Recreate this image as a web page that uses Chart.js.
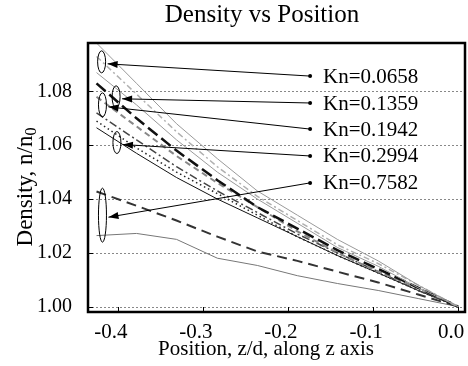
<!DOCTYPE html>
<html>
<head>
<meta charset="utf-8">
<script src="https://cdn.jsdelivr.net/npm/chart.js@4/dist/chart.umd.min.js"></script>
<style>
  body { margin: 0; background: #fff; }
</style>
</head>
<body>
<canvas id="myChart" width="468" height="366"></canvas>
<script>
'use strict';

// positions along z axis (z/d)
const positions = [-0.425, -0.378, -0.331, -0.283, -0.236, -0.189, -0.142, -0.094, -0.047, 0.0];

// density n/n0 for each curve, top to bottom at the left edge
const grayTop = [1.098, 1.083, 1.068, 1.055, 1.043, 1.034, 1.025, 1.017, 1.008, 1.000];
const grayDashDot = [1.093, 1.079, 1.065, 1.052, 1.041, 1.032, 1.023, 1.016, 1.008, 1.000];
const graySecond = [1.087, 1.075, 1.062, 1.050, 1.040, 1.031, 1.022, 1.015, 1.007, 1.000];
const blackLongDash = [1.083, 1.070, 1.058, 1.047, 1.037, 1.029, 1.021, 1.014, 1.007, 1.000];
const grayDashed = [1.078, 1.067, 1.056, 1.046, 1.037, 1.028, 1.020, 1.013, 1.007, 1.000];
const darkDashDot = [1.072, 1.062, 1.052, 1.043, 1.035, 1.027, 1.020, 1.013, 1.006, 1.000];
const blackDotted = [1.069, 1.059, 1.050, 1.042, 1.034, 1.026, 1.019, 1.0125, 1.006, 1.000];
const blackSolid = [1.0665, 1.057, 1.048, 1.040, 1.033, 1.026, 1.019, 1.0125, 1.006, 1.000];
const blackDashed = [1.0428, 1.0375, 1.032, 1.026, 1.0205, 1.017, 1.013, 1.009, 1.0045, 1.000];
const grayBottom = [1.0264, 1.0272, 1.025, 1.018, 1.0153, 1.0115, 1.0086, 1.006, 1.003, 1.000];

const xTicks = [-0.4, -0.3, -0.2, -0.1, 0.0];
const yTicks = [1.00, 1.02, 1.04, 1.06, 1.08];

// Kn callouts (label, label y, ellipse centre x/y, ellipse half height in px)
const knLabels = ['Kn=0.0658', 'Kn=0.1359', 'Kn=0.1942', 'Kn=0.2994', 'Kn=0.7582'];
const knLabelY = [1.0857, 1.0757, 1.0660, 1.0560, 1.0460];
const knLabelX = -0.174;
const knEllipseX = [-0.419, -0.402, -0.418, -0.401, -0.418];
const knEllipseY = [1.091, 1.078, 1.075, 1.061, 1.034];
const knEllipseRy = [11, 11, 12, 11, 27];

const serif = '"Liberation Serif", "DejaVu Serif", serif';

function series(values, color, width, dash) {
    return {
        data: positions.map((x, i) => ({ x: x, y: values[i] })),
        borderColor: color,
        borderWidth: width,
        borderDash: dash,
        showLine: true,
        pointRadius: 0,
        fill: false
    };
}

const decorations = {
    id: 'decorations',
    beforeDatasetsDraw(chart) {
        const ctx = chart.ctx;
        const area = chart.chartArea;
        const ys = chart.scales.y;
        ctx.save();
        // dotted grid lines
        ctx.strokeStyle = '#888';
        ctx.lineWidth = 1;
        ctx.setLineDash([2, 2]);
        yTicks.forEach(v => {
            const y = Math.round(ys.getPixelForValue(v)) + 0.5;
            ctx.beginPath();
            ctx.moveTo(area.left, y);
            ctx.lineTo(area.right, y);
            ctx.stroke();
        });
        ctx.restore();
    },
    afterDatasetsDraw(chart) {
        const ctx = chart.ctx;
        const area = chart.chartArea;
        const xs = chart.scales.x;
        const ys = chart.scales.y;
        ctx.save();
        ctx.setLineDash([]);
        ctx.strokeStyle = '#000';
        ctx.fillStyle = '#000';

        // inner tick marks
        ctx.lineWidth = 1;
        xTicks.forEach(v => {
            const x = Math.round(xs.getPixelForValue(v)) + 0.5;
            ctx.beginPath();
            ctx.moveTo(x, area.bottom);
            ctx.lineTo(x, area.bottom - 5);
            ctx.stroke();
        });
        yTicks.forEach(v => {
            const y = Math.round(ys.getPixelForValue(v)) + 0.5;
            ctx.beginPath();
            ctx.moveTo(area.left, y);
            ctx.lineTo(area.left + 5, y);
            ctx.stroke();
        });

        // frame
        ctx.lineWidth = 2.5;
        ctx.strokeRect(area.left, area.top, area.right - area.left, area.bottom - area.top);

        // Kn callouts
        knLabels.forEach((label, i) => {
            const ex = xs.getPixelForValue(knEllipseX[i]);
            const ey = ys.getPixelForValue(knEllipseY[i]);
            const dx = xs.getPixelForValue(knLabelX);
            const dy = ys.getPixelForValue(knLabelY[i]);

            ctx.lineWidth = 1;
            ctx.beginPath();
            ctx.ellipse(ex, ey, 4, knEllipseRy[i], 0, 0, Math.PI * 2);
            ctx.stroke();

            const tx = ex + 6;
            const ty = ey + 2;
            const ang = Math.atan2(ty - dy, tx - dx);
            ctx.beginPath();
            ctx.moveTo(dx, dy);
            ctx.lineTo(tx, ty);
            ctx.stroke();
            ctx.beginPath();
            ctx.moveTo(tx, ty);
            ctx.lineTo(tx - 10 * Math.cos(ang) + 3.5 * Math.sin(ang), ty - 10 * Math.sin(ang) - 3.5 * Math.cos(ang));
            ctx.lineTo(tx - 10 * Math.cos(ang) - 3.5 * Math.sin(ang), ty - 10 * Math.sin(ang) + 3.5 * Math.cos(ang));
            ctx.closePath();
            ctx.fill();

            ctx.beginPath();
            ctx.arc(dx, dy, 2, 0, Math.PI * 2);
            ctx.fill();

            ctx.font = '21px ' + serif;
            ctx.textAlign = 'left';
            ctx.textBaseline = 'middle';
            ctx.fillText(label, dx + 13, dy + 1);
        });

        // titles
        ctx.textAlign = 'center';
        ctx.textBaseline = 'alphabetic';
        ctx.font = '25px ' + serif;
        ctx.fillText('Density vs Position', 262, 22);
        ctx.font = '21px ' + serif;
        ctx.fillText('Position, z/d, along z axis', 266, 355);

        // y title with subscript
        ctx.translate(32, 187);
        ctx.rotate(-Math.PI / 2);
        ctx.font = '23px ' + serif;
        const main = 'Density, n/n';
        const w1 = ctx.measureText(main).width;
        ctx.font = '16px ' + serif;
        const w2 = ctx.measureText('0').width;
        const start = -(w1 + w2) / 2;
        ctx.textAlign = 'left';
        ctx.font = '23px ' + serif;
        ctx.fillText(main, start, 0);
        ctx.font = '16px ' + serif;
        ctx.fillText('0', start + w1, 4);
        ctx.restore();
    }
};

const ctx = document.getElementById('myChart').getContext('2d');

new Chart(ctx, {
    type: 'scatter',
    data: {
        datasets: [
            series(grayTop, '#9a9a9a', 1, []),
            series(grayDashDot, '#b0b0b0', 1.5, [6, 3, 2, 3]),
            series(graySecond, '#9a9a9a', 1, []),
            series(blackLongDash, '#111', 2.5, [12, 5]),
            series(grayDashed, '#888', 2, [6, 4]),
            series(darkDashDot, '#444', 1.5, [8, 3, 2, 3]),
            series(blackDotted, '#222', 1.5, [1.5, 3]),
            series(blackSolid, '#111', 1, []),
            series(blackDashed, '#333', 2, [10, 6]),
            series(grayBottom, '#777', 1, [])
        ]
    },
    options: {
        responsive: false,
        devicePixelRatio: 1,
        animation: false,
        layout: { autoPadding: false, padding: { top: 43, right: 3, left: 0, bottom: 0 } },
        plugins: {
            legend: { display: false },
            tooltip: { enabled: false },
            title: { display: false }
        },
        scales: {
            x: {
                type: 'linear',
                min: -0.435,
                max: 0.008,
                afterFit: scale => {
                    scale.height = 54;
                    scale.paddingLeft = 0;
                    scale.paddingRight = 0;
                },
                afterBuildTicks: scale => { scale.ticks = xTicks.map(v => ({ value: v })); },
                grid: { display: false, drawTicks: false },
                border: { display: false },
                ticks: {
                    color: '#000',
                    padding: 8,
                    labelOffset: -7,
                    font: { family: serif, size: 21 },
                    callback: v => v.toFixed(1)
                }
            },
            y: {
                type: 'linear',
                min: 0.998,
                max: 1.098,
                afterFit: scale => {
                    scale.width = 88;
                    scale.paddingTop = 0;
                    scale.paddingBottom = 0;
                },
                afterBuildTicks: scale => { scale.ticks = yTicks.map(v => ({ value: v })); },
                grid: { display: false, drawTicks: false },
                border: { display: false },
                ticks: {
                    color: '#000',
                    padding: 16,
                    font: { family: serif, size: 20 },
                    callback: v => v.toFixed(2)
                }
            }
        }
    },
    plugins: [decorations]
});
</script>
</body>
</html>
